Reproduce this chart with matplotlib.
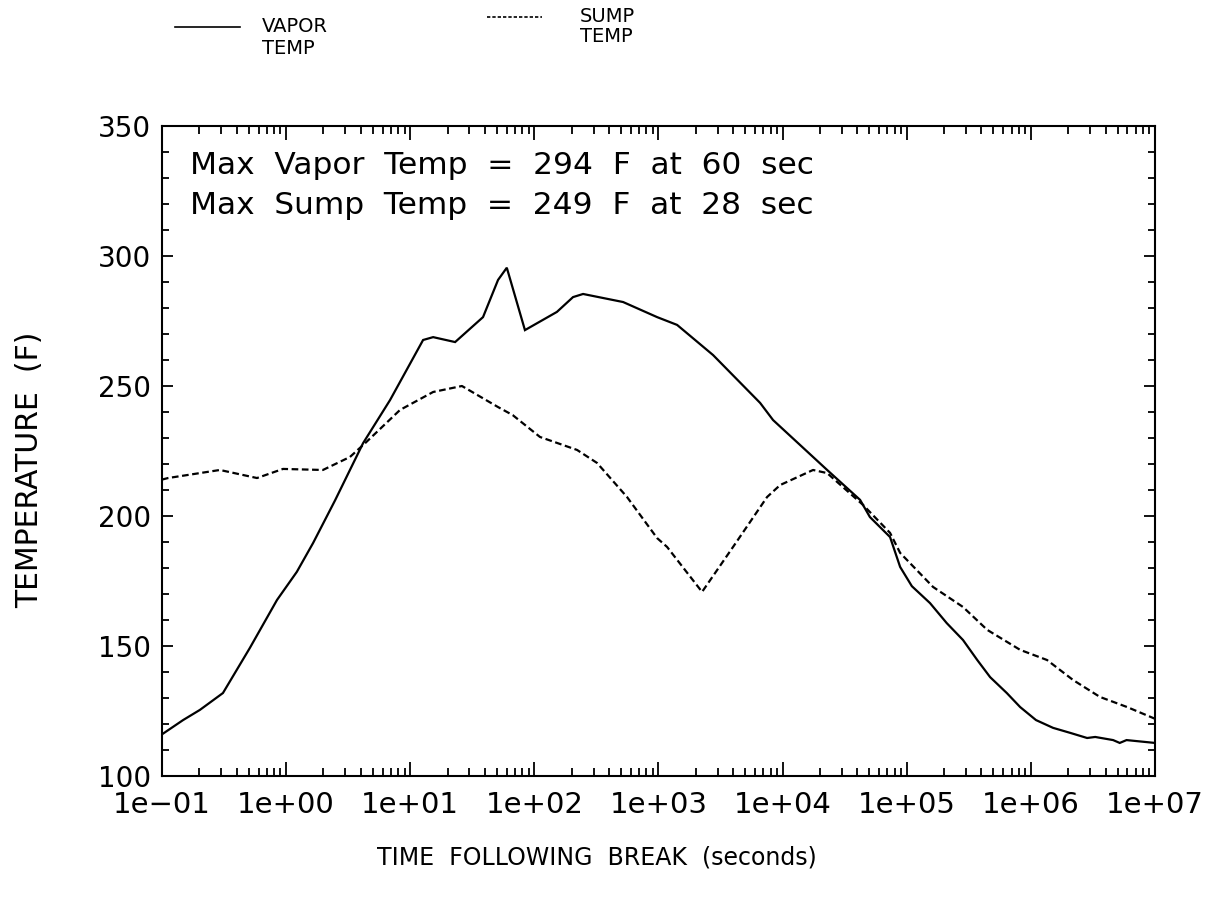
import matplotlib
matplotlib.use("Agg")
import matplotlib.pyplot as plt
from matplotlib.ticker import LogLocator, FixedLocator, NullFormatter, MultipleLocator
import numpy as np

plt.rcParams['font.family'] = ['DejaVu Sans']

# Vapor temperature (solid)
vapor_t = [0.1, 0.148, 0.202, 0.31, 0.51, 0.845, 1.22, 1.65, 2.48, 4.17, 6.88, 12.7, 15.3, 23,
           38.6, 51, 60, 84, 152, 205, 247, 519, 975, 1413, 2754, 6590, 8380, 22850, 42100,
           50500, 73400, 88500, 110000, 154000, 210000, 284000, 370000, 470000, 640000, 820000,
           1.1e6, 1.51e6, 2.1e6, 2.84e6, 3.3e6, 4.6e6, 5.2e6, 5.9e6, 1e7]
vapor_T = [116, 121.5, 125.4, 131.9, 149.2, 167.7, 178.5, 189.6, 206, 228, 244.6, 267.7, 268.8, 266.9,
           276.5, 290.8, 295.5, 271.5, 278.5, 284.2, 285.4, 282.3, 276.5, 273.5, 261.9, 243.5, 236.9, 217.7, 206.2,
           199.6, 191.9, 180.4, 173.0, 166.5, 158.8, 152.3, 144.6, 138, 131.9, 126.5,
           121.5, 118.5, 116.5, 114.6, 115.0, 113.8, 112.7, 113.8, 112.7]

# Sump temperature (dashed)
sump_t = [0.1, 0.112, 0.293, 0.583, 0.944, 1.98, 3.27, 4.33, 8.28, 15.3, 26.1, 51, 67, 111, 221,
          320, 558, 975, 1173, 2245, 3990, 7500, 9550, 17600, 22850, 44600, 73400, 88500, 163000,
          284000, 445000, 820000, 1.35e6, 2.19e6, 3.6e6, 5.97e6, 1e7]
sump_T = [214, 214.6, 217.7, 214.6, 218.1, 217.7, 222.7, 228, 240.8, 247.7, 250, 241.9, 238.8, 230.4, 225.4,
          220.4, 207.3, 191.5, 188.1, 170.8, 188.1, 207.3, 211.9, 217.7, 216.5, 204.2, 193.5, 185.8, 172.7,
          165, 156.2, 148.5, 144.6, 136.9, 130.4, 126.5, 122]

xtick_vals = [1e-1, 1e0, 1e1, 1e2, 1e3, 1e4, 1e5, 1e6, 1e7]
xtick_labels = ["1e\u221201", "1e+00", "1e+01", "1e+02", "1e+03", "1e+04", "1e+05", "1e+06", "1e+07"]
ytick_vals = [100, 150, 200, 250, 300, 350]

fig = plt.figure(figsize=(12.15, 9.10), dpi=100)
ax = fig.add_axes([0.1333, 0.1473, 0.9506 - 0.1333, 0.8615 - 0.1473])

ax.plot(vapor_t, vapor_T, color='black', lw=1.6, solid_joinstyle='miter')
ax.plot(sump_t, sump_T, color='black', lw=1.6, linestyle=(0, (3.0, 1.6)))

ax.set_xscale('log')
ax.set_xlim(1e-1, 1e7)
ax.set_ylim(100, 350)

ax.xaxis.set_major_locator(FixedLocator(xtick_vals))
ax.set_xticklabels(xtick_labels)
ax.xaxis.set_minor_locator(LogLocator(base=10, subs=np.arange(2, 10), numticks=100))
ax.xaxis.set_minor_formatter(NullFormatter())
ax.yaxis.set_major_locator(FixedLocator(ytick_vals))
ax.yaxis.set_minor_locator(MultipleLocator(10))

ax.tick_params(which='both', direction='in', top=True, right=True, width=1.3, color='black')
ax.tick_params(which='major', length=10, labelsize=21, pad=11)
ax.tick_params(which='minor', length=6)
ax.tick_params(axis='y', which='major', length=8, pad=8, labelsize=20)
ax.tick_params(axis='y', which='minor', length=5)
for s in ax.spines.values():
    s.set_linewidth(1.5)

fig.text(597/1215, 1 - 857/910, "TIME  FOLLOWING  BREAK  (seconds)", fontsize=17,
         ha='center', va='center')
fig.text(30/1215, 1 - 470/910, "TEMPERATURE  (F)", fontsize=21.5, rotation=90,
         ha='center', va='center')

ax.text(0.028, 0.94, "Max  Vapor  Temp  =  294  F  at  60  sec", transform=ax.transAxes,
        fontsize=22.5, va='center', ha='left')
ax.text(0.028, 0.878, "Max  Sump  Temp  =  249  F  at  28  sec", transform=ax.transAxes,
        fontsize=22.5, va='center', ha='left')

# Legend at top
fig.add_artist(plt.Line2D([175/1215, 240/1215], [1 - 27/910, 1 - 27/910], color='black', lw=1.2))
fig.text(262/1215, 1 - 27/910, "VAPOR", fontsize=14, va='center', ha='left')
fig.text(262/1215, 1 - 48/910, "TEMP", fontsize=14, va='center', ha='left')
fig.add_artist(plt.Line2D([487/1215, 542/1215], [1 - 17/910, 1 - 17/910], color='black', lw=1.2,
                          linestyle=(0, (2, 1.2))))
fig.text(580/1215, 1 - 16/910, "SUMP", fontsize=14, va='center', ha='left')
fig.text(580/1215, 1 - 37/910, "TEMP", fontsize=14, va='center', ha='left')

fig.savefig("out.png", dpi=100, facecolor='white')
